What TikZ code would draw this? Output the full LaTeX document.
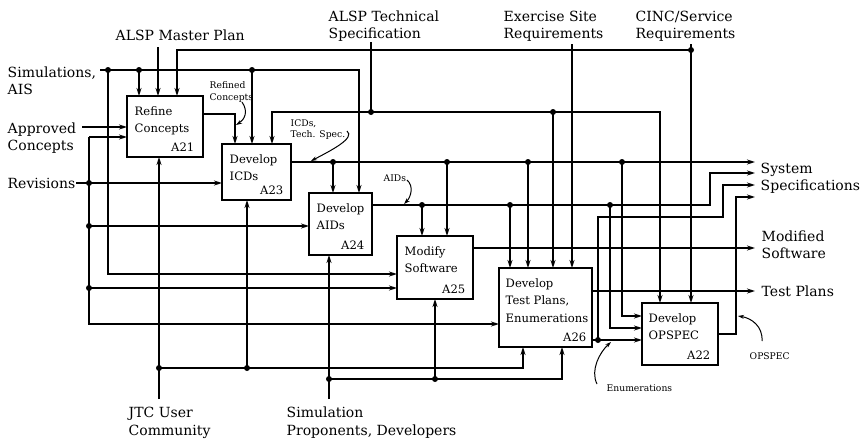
\documentclass[tikz,border=0pt]{standalone}
\usepackage{fontspec}
\setmainfont{DejaVu Serif}
\usetikzlibrary{arrows.meta,calc}
\newcommand\lblO{\fontsize{14}{17}\selectfont}
\newcommand\lblB{\fontsize{11.6}{14}\selectfont}
\newcommand\lblS{\fontsize{9.2}{11}\selectfont}
\begin{document}
\begin{tikzpicture}[x=1pt,y=-1pt,
  line width=1.4pt,
  box/.style={draw, line width=1.6pt, inner sep=0pt, outer sep=0pt},
  arr/.style={-{Stealth[length=8pt,width=5pt]}},
  dot/.style={circle, fill, inner sep=0pt, minimum size=6pt},
  lo/.style={font=\lblO, anchor=base west, inner sep=0pt},
  lb/.style={font=\lblB, anchor=base west, inner sep=0pt},
  lid/.style={font=\lblB, anchor=base east, inner sep=0pt},
  ls/.style={font=\lblS, anchor=base west, inner sep=0pt},
  lead/.style={line width=1pt, -{Stealth[length=6pt,width=4pt]}}
]
\useasboundingbox (0,0) rectangle (860,439);

% ---------- boxes ----------
\node[box, minimum width=76pt, minimum height=61pt] (A21) at (165,126.5) {};
\node[box, minimum width=69pt, minimum height=56pt] (A23) at (256.5,172) {};
\node[box, minimum width=63pt, minimum height=62pt] (A24) at (340.5,224) {};
\node[box, minimum width=76pt, minimum height=63pt] (A25) at (435,267.5) {};
\node[box, minimum width=93pt, minimum height=79pt] (A26) at (545.5,307.5) {};
\node[box, minimum width=76pt, minimum height=62pt] (A22) at (680,334) {};

\node[lb] at ($(A21.north west)+(7,19)$) {Refine};
\node[lb] at ($(A21.north west)+(7,36.5)$) {Concepts};
\node[lid] at ($(A21.south east)+(-8,-6)$) {A21};
\node[lb] at ($(A23.north west)+(7,19)$) {Develop};
\node[lb] at ($(A23.north west)+(7,36.5)$) {ICDs};
\node[lid] at ($(A23.south east)+(-7,-6)$) {A23};
\node[lb] at ($(A24.north west)+(7,19)$) {Develop};
\node[lb] at ($(A24.north west)+(7,36.5)$) {AIDs};
\node[lid] at ($(A24.south east)+(-7,-6)$) {A24};
\node[lb] at ($(A25.north west)+(7,19)$) {Modify};
\node[lb] at ($(A25.north west)+(7,36.5)$) {Software};
\node[lid] at ($(A25.south east)+(-7,-6)$) {A25};
\node[lb] at ($(A26.north west)+(6,19)$) {Develop};
\node[lb] at ($(A26.north west)+(6,36.5)$) {Test Plans,};
\node[lb] at ($(A26.north west)+(6,54)$) {Enumerations};
\node[lid] at ($(A26.south east)+(-5,-6)$) {A26};
\node[lb] at ($(A22.north west)+(6,19)$) {Develop};
\node[lb] at ($(A22.north west)+(6,36.5)$) {OPSPEC};
\node[lid] at ($(A22.south east)+(-7,-6)$) {A22};

% ---------- coordinates ----------
\coordinate (simS) at (100,70);
\coordinate (mpS) at (158,47);
\coordinate (tsS) at (371,42);
\coordinate (esS) at (572,44);
\coordinate (ciS) at (691,44);
\coordinate (apS) at (82,127);
\coordinate (rvS) at (76,183);
\coordinate (jtS) at (159,399);
\coordinate (spS) at (329,399);

\coordinate (j1) at (108,70);
\coordinate (j2) at (139,70);
\coordinate (j3) at (252,70);
\coordinate (j1b) at (108,274);
\coordinate (ci1) at (691,50);
\coordinate (ts1) at (371,112);
\coordinate (ts2) at (553,112);
\coordinate (rv1) at (89,183);
\coordinate (rv2) at (89,226);
\coordinate (rv3) at (89,288);
\coordinate (rvT) at (89,137);
\coordinate (rvB) at (89,324);
\coordinate (ic1) at (333,162);
\coordinate (ic2) at (447,162);
\coordinate (ic3) at (528,162);
\coordinate (ic4) at (622,162);
\coordinate (ai1) at (422,205);
\coordinate (ai2) at (510,205);
\coordinate (ai3) at (610,205);
\coordinate (aiC) at (710,205);
\coordinate (en1) at (598,340);
\coordinate (en2) at (723,217);
\coordinate (opC) at (736,197);
\coordinate (jt1) at (159,368);
\coordinate (jt2) at (247,368);
\coordinate (sp1) at (329,379);
\coordinate (sp2) at (435,379);

\coordinate (oIC) at (755,162);
\coordinate (oAI) at (755,173);
\coordinate (oEN) at (755,185);
\coordinate (oOP) at (755,197);
\coordinate (oMS) at (755,248);
\coordinate (oTP) at (755,291);

% ---------- connectors ----------
% Simulations, AIS
\draw[arr] (simS) -| ([xshift=50pt]A24.north west);
\draw[arr] (j2) -- (j2 |- A21.north);
\draw[arr] (j3) -- (j3 |- A23.north);
\draw[arr] (j1) -- (j1b) -- (j1b -| A25.west);
% ALSP Master Plan
\draw[arr] (mpS) -- (mpS |- A21.north);
% CINC/Service Requirements
\draw[arr] (ciS) -- (ciS |- A22.north);
\draw[arr] (ci1) -| ([xshift=50pt]A21.north west);
% Approved Concepts
\draw[arr] (apS) -- (apS -| A21.west);
% Revisions
\draw[arr] (rvS) -- (rvS -| A23.west);
\draw[arr] (rvT) -- (rvB) -- (rvB -| A26.west);
\draw[arr] (rvT) -- (rvT -| A21.west);
\draw[arr] (rv2) -- (rv2 -| A24.west);
\draw[arr] (rv3) -- (rv3 -| A25.west);
% Refined Concepts
\draw[arr] ([yshift=-18pt]A21.north east) -| ([xshift=13pt]A23.north west);
% ALSP Technical Specification
\draw (tsS) -- (ts1);
\draw[arr] (ts1) -| ([xshift=50pt]A23.north west);
\draw[arr] (ts1) -| ([xshift=18pt]A22.north west);
\draw[arr] (ts2) -- (ts2 |- A26.north);
% Exercise Site Requirements
\draw[arr] (esS) -- (esS |- A26.north);
% ICDs
\draw[arr] ([yshift=-18pt]A23.north east) -- (oIC);
\draw[arr] (ic1) -- (ic1 |- A24.north);
\draw[arr] (ic2) -- (ic2 |- A25.north);
\draw[arr] (ic3) -- (ic3 |- A26.north);
\draw[arr] (ic4) |- ([yshift=-13pt]A22.north west);
% AIDs
\draw[arr] ([yshift=-12pt]A24.north east) -- (aiC) |- (oAI);
\draw[arr] (ai1) -- (ai1 |- A25.north);
\draw[arr] (ai2) -- (ai2 |- A26.north);
\draw[arr] (ai3) |- ([yshift=-25pt]A22.north west);
% Modified Software
\draw[arr] ([yshift=-12pt]A25.north east) -- (oMS);
% Test Plans, Enumerations
\draw[arr] ([yshift=-23pt]A26.north east) -- (oTP);
\draw[arr] ([yshift=-72pt]A26.north east) -- ([yshift=-37pt]A22.north west);
\draw[arr] (en1) |- (en2) |- (oEN);
% OPSPEC
\draw[arr] (A22.east) -| (opC) -- (oOP);
% JTC User Community
\draw[arr] (jtS) -- (jtS |- A21.south);
\draw[arr] (jt1) -| ([xshift=24pt]A26.south west);
\draw[arr] (jt2) -- (jt2 |- A23.south);
% Simulation Proponents, Developers
\draw[arr] (spS) -- (spS |- A24.south);
\draw[arr] (sp1) -| ([xshift=63pt]A26.south west);
\draw[arr] (sp2) -- (sp2 |- A25.south);

% junction dots
\foreach \p in {j1,j2,j3,ci1,ts1,ts2,rv1,rv2,rv3,ic1,ic2,ic3,ic4,ai1,ai2,ai3,en1,jt1,jt2,sp1,sp2}
  \node[dot] at (\p) {};

% ---------- outer labels ----------
\node[lo] (tMP) at (115,40) {ALSP Master Plan};
\node[lo] (tTS1) at (328,21) {ALSP Technical};
\node[lo] (tTS2) at (328,38.5) {Specification};
\node[lo] (tES1) at (503,21) {Exercise Site};
\node[lo] (tES2) at (503,38.5) {Requirements};
\node[lo] (tCI1) at (635,21) {CINC/Service};
\node[lo] (tCI2) at (635,38.5) {Requirements};
\node[lo] (tSI1) at (7,77) {Simulations,};
\node[lo] (tSI2) at (7,94) {AIS};
\node[lo] (tAP1) at (7,133) {Approved};
\node[lo] (tAP2) at (7,150.5) {Concepts};
\node[lo] (tRV) at (7,188) {Revisions};
\node[lo] (tSS1) at (760,173) {System};
\node[lo] (tSS2) at (760,190) {Specifications};
\node[lo] (tMS1) at (761,241) {Modified};
\node[lo] (tMS2) at (761,258.5) {Software};
\node[lo] (tTP) at (761,296) {Test Plans};
\node[lo] (tJT1) at (128,417.5) {JTC User};
\node[lo] (tJT2) at (128,435) {Community};
\node[lo] (tSP1) at (286,417.5) {Simulation};
\node[lo] (tSP2) at (286,435) {Proponents, Developers};

% ---------- small labels with leaders ----------
\node[ls] (lRC1) at (209,88) {Refined};
\node[ls] (lRC2) at (209,100) {Concepts};
\draw[lead] (242,102) .. controls (249,112) and (244,120) .. (236,125);
\node[ls] (lIC1) at (290,126) {ICDs,};
\node[ls] (lIC2) at (290,137.5) {Tech. Spec.};
\draw[lead] (347,131) .. controls (356,138) and (330,151) .. (311,161);
\node[ls] (lAI) at (383,181) {AIDs};
\draw[lead] (407,180) .. controls (414,186) and (411,197) .. (404,204);
\node[ls] (lEN) at (606,391) {Enumerations};
\draw[lead] (597,384) .. controls (590,370) and (600,352) .. (611,342);
\node[ls] (lOP) at (749,359) {OPSPEC};
\draw[lead] (762,341) .. controls (763,326) and (751,318) .. (738,316);
\end{tikzpicture}
\end{document}
